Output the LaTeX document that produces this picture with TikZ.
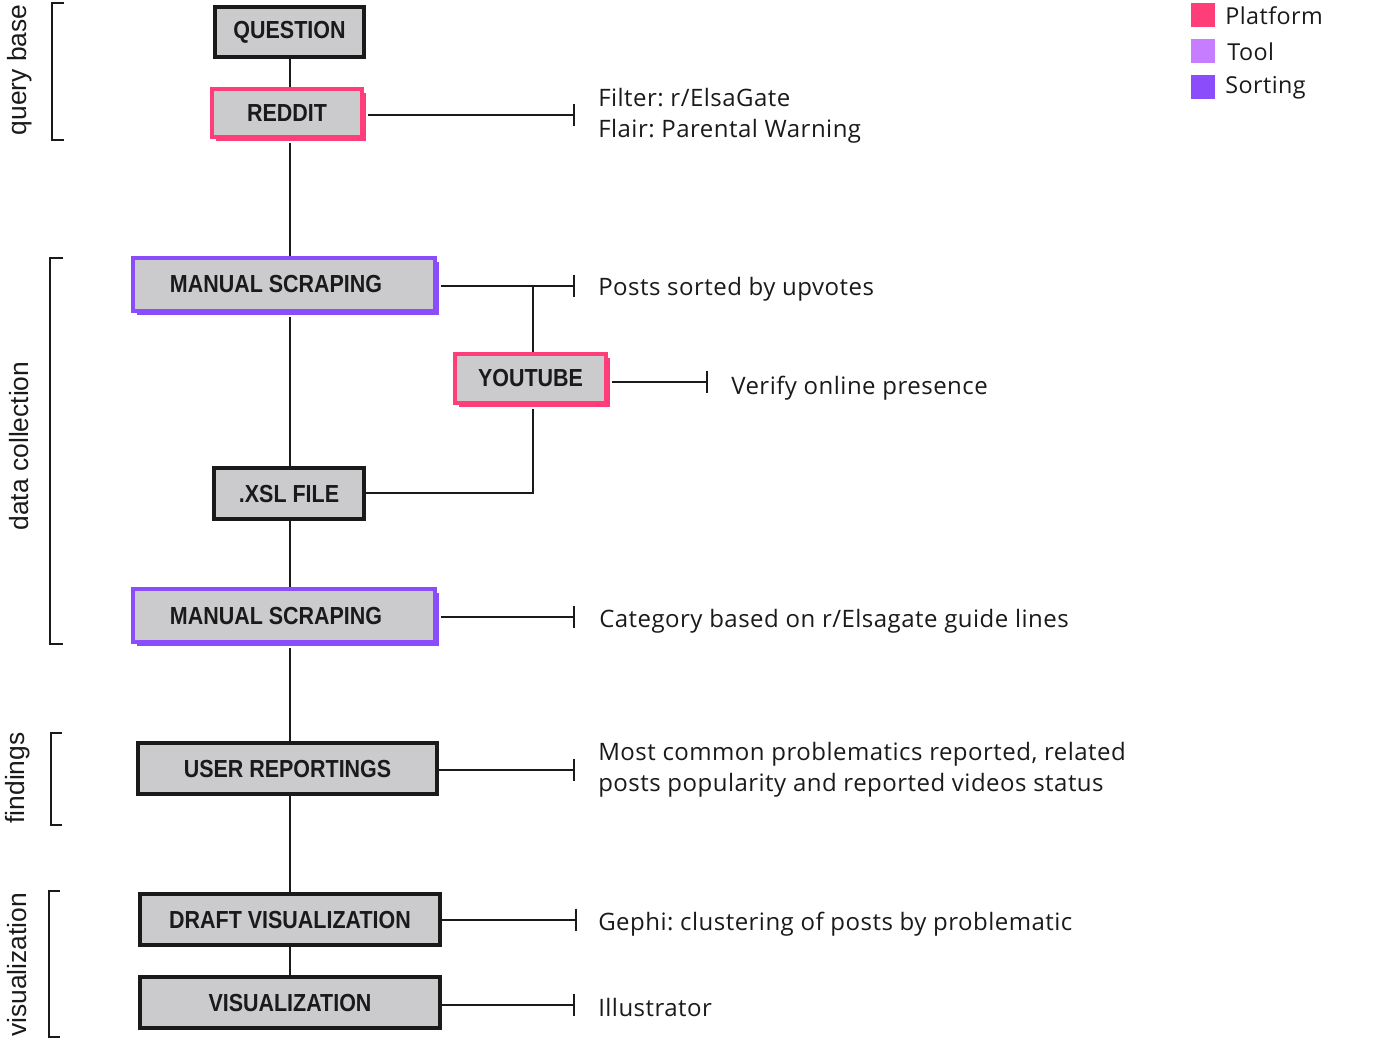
\documentclass[tikz,border=0pt]{standalone}
\usepackage{fontspec}
\usepackage{graphicx}
\setmainfont{Liberation Sans}
\newfontfamily\notefont[LetterSpace=2]{Open Sans}
\newfontfamily\boxfont{Liberation Sans}
\usetikzlibrary{arrows.meta,shadows}
\definecolor{boxfill}{HTML}{CBCBCE}
\definecolor{ink}{HTML}{1A1A1A}
\definecolor{platform}{HTML}{FF3D78}
\definecolor{tool}{HTML}{C67DFF}
\definecolor{sorting}{HTML}{8B4DFB}
\frenchspacing
\newcommand\bxt[1]{\scalebox{0.87}[1]{#1}}
\tikzset{
  px/.style={x=0.75pt,y=-0.75pt},
  stepbox/.style={draw=ink, line width=3pt, fill=boxfill, inner sep=0pt,
    font=\boxfont\bfseries\fontsize{18.5}{22}\selectfont, text=ink},
  platbox/.style={stepbox, draw=platform,
    drop shadow={shadow xshift=3pt, shadow yshift=-3pt, fill=platform, opacity=1}},
  sortbox/.style={stepbox, draw=sorting,
    drop shadow={shadow xshift=3pt, shadow yshift=-3pt, fill=sorting, opacity=1}},
  wide/.style={minimum width=226.5pt, minimum height=39.75pt},
  narrow/.style={minimum width=112.5pt, minimum height=37.5pt},
  link/.style={draw=ink, line width=1.5pt},
  notelink/.style={link, -{Bar[width=17pt, line width=1.5pt]}},
  note/.style={anchor=west, align=left, inner sep=0pt, text=ink,
    font=\notefont\fontsize{18}{23.25}\selectfont},
  bracket/.style={draw=ink, line width=1.5pt},
  blabel/.style={rotate=90, inner sep=0pt, text=ink, font=\fontsize{19.8}{22}\selectfont},
  legsq/.style={minimum size=18pt, inner sep=0pt, anchor=north west},
  legtext/.style={anchor=west, inner sep=0pt, text=ink, font=\notefont\fontsize{17.5}{20}\selectfont}
}
\begin{document}
\begin{tikzpicture}[px]
\useasboundingbox (0,0) rectangle (1394,1039);

% spine
\coordinate (spine) at (290,0);

% boxes
\node[stepbox, narrow, minimum width=111.75pt] (question) at (289.5,32) {\bxt{QUESTION}};
\node[platbox, narrow, minimum height=36pt] (reddit) at (287,113) {\bxt{REDDIT}};
\node[sortbox, wide] (ms1) at (284,284.5) {\bxt{MANUAL SCRAPING}\hspace*{12pt}};
\node[platbox, narrow, minimum width=113.25pt, minimum height=36.75pt] (youtube) at (530.5,378.5) {\bxt{YOUTUBE}};
\node[stepbox, narrow, minimum height=38.25pt] (xsl) at (289,493.5) {\bxt{.XSL FILE}};
\node[sortbox, wide] (ms2) at (284,615.5) {\bxt{MANUAL SCRAPING}\hspace*{12pt}};
\node[stepbox, minimum width=224.25pt, minimum height=38.25pt] (user) at (287.5,768.5) {\bxt{USER REPORTINGS}};
\node[stepbox, minimum width=225pt, minimum height=38.25pt] (draft) at (290,919.5) {\bxt{DRAFT VISUALIZATION}};
\node[stepbox, minimum width=225pt, minimum height=38.25pt] (vis) at (290,1002.5) {\bxt{VISUALIZATION}};

% spine connectors
\draw[link] (spine |- question.south) -- (spine |- reddit.north);
\draw[link] ([yshift=-3pt]spine |- reddit.south) -- (spine |- ms1.north);
\draw[link] ([yshift=-3pt]spine |- ms1.south) -- (spine |- xsl.north);
\draw[link] (spine |- xsl.south) -- (spine |- ms2.north);
\draw[link] ([yshift=-3pt]spine |- ms2.south) -- (spine |- user.north);
\draw[link] (spine |- user.south) -- (spine |- draft.north);
\draw[link] (spine |- draft.south) -- (spine |- vis.north);

% notes
\coordinate (n1) at (575,115);
\draw[notelink] ([xshift=3pt]reddit.east |- n1) -- (n1);
\node[note] (t1) at (598,116) {Filter: r/ElsaGate\\Flair: Parental Warning};

\coordinate (n2) at (575,286);
\coordinate (b2) at (533,286);
\draw[notelink] ([xshift=3pt]ms1.east |- n2) -- (n2);
\node[note] (t2) at (598,289) {Posts sorted by upvotes};
\draw[link] (b2) -- (b2 |- youtube.north);
\coordinate (b3) at (533,493);
\draw[link] ([yshift=-3pt]b2 |- youtube.south) -- (b3) -- (xsl.east |- b3);

\coordinate (n3) at (708,382);
\draw[notelink] ([xshift=3pt]youtube.east |- n3) -- (n3);
\node[note] (t3) at (731,388) {Verify online presence};

\coordinate (n4) at (575,617);
\draw[notelink] ([xshift=3pt]ms2.east |- n4) -- (n4);
\node[note] (t4) at (599,621) {Category based on r/Elsagate guide lines};

\coordinate (n5) at (575,770);
\draw[notelink] (user.east |- n5) -- (n5);
\node[note] (t5) at (598,770) {Most common problematics reported, related\\posts popularity and reported videos status};

\coordinate (n6) at (577,920);
\draw[notelink] (draft.east |- n6) -- (n6);
\node[note] (t6) at (598,924) {Gephi: clustering of posts by problematic};

\coordinate (n7) at (575,1005);
\draw[notelink] (vis.east |- n7) -- (n7);
\node[note] (t7) at (598,1007) {Illustrator};

% brackets
\draw[bracket] (64,3) -- (52,3) -- (52,140) -- (64,140);
\node[blabel] (l1) at (20,70) {query base};
\draw[bracket] (63,258) -- (50,258) -- (50,644) -- (63,644);
\node[blabel] (l2) at (19,446) {data collection};
\draw[bracket] (62,733) -- (51,733) -- (51,825) -- (62,825);
\node[blabel] (l3) at (18,778) {findings};
\draw[bracket] (60,891) -- (49,891) -- (49,1037) -- (60,1037);
\node[blabel] (l4) at (17,965) {visualization};

% legend
\node[legsq, fill=platform] (k1) at (1191,3) {};
\node[legtext] (k1t) at (1225,16) {Platform};
\node[legsq, fill=tool] (k2) at (1191,39) {};
\node[legtext] (k2t) at (1227,52) {Tool};
\node[legsq, fill=sorting] (k3) at (1191,75) {};
\node[legtext] (k3t) at (1225,88) {Sorting};
\end{tikzpicture}
\end{document}
